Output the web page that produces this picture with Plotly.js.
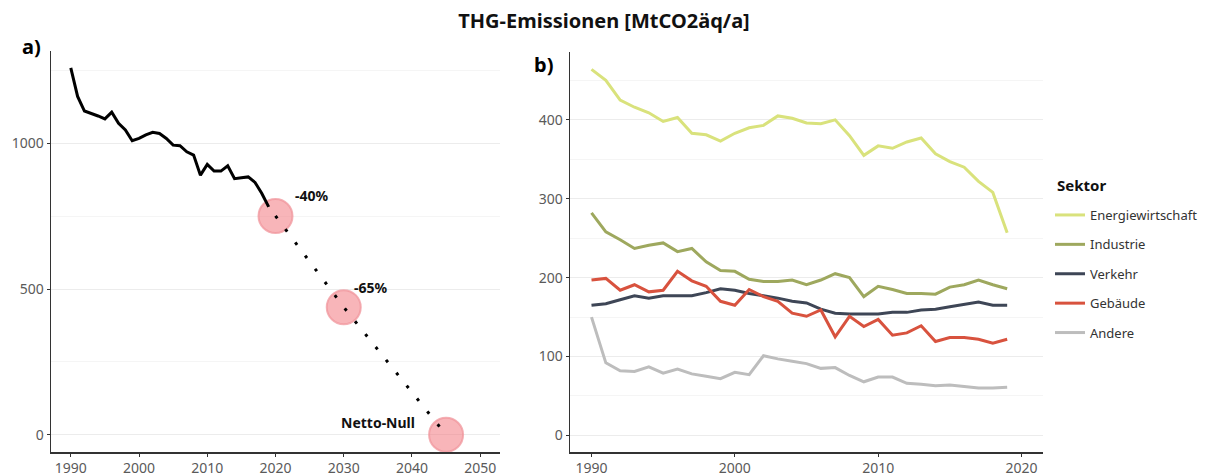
<!DOCTYPE html>
<html>
<head>
<meta charset="utf-8">
<script src="https://cdn.plot.ly/plotly-3.0.1.min.js"></script>
<style>html,body{margin:0;padding:0;background:#fff;}#chart{width:1211px;height:476px;}</style>
</head>
<body>
<div id="chart"></div>
<script>
// ---------- Data ----------
const years = [1990,1991,1992,1993,1994,1995,1996,1997,1998,1999,2000,2001,2002,2003,2004,2005,2006,2007,2008,2009,2010,2011,2012,2013,2014,2015,2016,2017,2018,2019];
const totalEmissions = [1259,1161,1111,1103,1094,1084,1107,1069,1046,1009,1017,1029,1038,1034,1017,994,992,971,960,891,928,905,905,923,879,882,885,866,828,782];
const targetYears = [2020, 2030, 2045];
const targetValues = [751, 438, 0];
const targetLabels = ["-40%", "-65%", "Netto-Null"];

const sectors = ["Energiewirtschaft", "Industrie", "Verkehr", "Gebäude", "Andere"];
const energiewirtschaft = [464,450,425,416,409,398,403,383,381,373,383,390,393,405,402,396,395,400,380,355,367,364,372,377,357,347,340,322,308,257];
const industrie = [282,258,248,237,241,244,233,237,220,209,208,198,195,195,197,191,197,205,200,176,189,185,180,180,179,188,191,197,191,186];
const verkehr = [165,167,172,177,174,177,177,177,181,186,184,180,177,174,170,168,160,155,154,154,154,156,156,159,160,163,166,169,165,165];
const gebaeude = [197,199,184,191,182,184,208,196,189,170,165,185,176,170,155,151,159,125,151,138,147,127,130,139,119,124,124,122,117,122];
const andere = [150,92,82,81,87,79,84,78,75,72,80,77,101,97,94,91,85,86,76,68,74,74,66,65,63,64,62,60,60,61];
const sectorValues = [energiewirtschaft, industrie, verkehr, gebaeude, andere];
const sectorColors = ["#d9e27c", "#9ea85e", "#3e4656", "#d8523e", "#bdbdbd"];
const legendTitle = "Sektor";

// ---------- Traces ----------
const traces = [];
traces.push({
  x: targetYears, y: targetValues, type: 'scatter', mode: 'markers',
  marker: {size: 34, color: 'rgba(242,120,128,0.55)', line: {width: 2, color: 'rgba(240,150,156,0.75)'}},
  xaxis: 'x', yaxis: 'y', showlegend: false, hoverinfo: 'skip'
});
traces.push({
  x: targetYears, y: targetValues, type: 'scatter', mode: 'lines',
  line: {color: '#000', width: 3, dash: '3px,13.5px'},
  xaxis: 'x', yaxis: 'y', showlegend: false
});
traces.push({
  x: years, y: totalEmissions, type: 'scatter', mode: 'lines',
  line: {color: '#000', width: 3},
  xaxis: 'x', yaxis: 'y', showlegend: false
});
sectors.forEach((s, i) => {
  traces.push({
    x: years, y: sectorValues[i], type: 'scatter', mode: 'lines', name: s,
    legendgroup: 'g' + i,
    line: {color: sectorColors[i], width: 3},
    xaxis: 'x2', yaxis: 'y2'
  });
});

// ---------- Layout ----------
const W = 1211, H = 476;
const tickFont = {family: 'Noto Sans, sans-serif', size: 14, color: '#5a5a5a'};
const axisCommon = {
  showline: true, linecolor: '#333', linewidth: 1.5,
  ticks: 'outside', ticklen: 3, tickcolor: '#333', tickwidth: 1,
  tickfont: tickFont, zeroline: false
};
const yBottom = 452;
const layout = {
  width: W, height: H,
  margin: {l: 0, r: 0, t: 0, b: 0},
  paper_bgcolor: '#fff', plot_bgcolor: '#fff',
  font: {family: 'Noto Sans, sans-serif'},
  title: {text: '<b>THG-Emissionen [MtCO2äq/a]</b>', x: 604 / W, xanchor: 'center', xref: 'paper',
          y: 1 - 21 / H, yanchor: 'middle', yref: 'container',
          font: {family: 'Noto Sans, sans-serif', size: 20, color: '#111'}},
  xaxis: Object.assign({}, axisCommon, {
    domain: [51 / W, 500 / W], range: [1987.1, 2052.9],
    tickvals: [1990, 2000, 2010, 2020, 2030, 2040, 2050], showgrid: false, anchor: 'y'
  }),
  yaxis: Object.assign({}, axisCommon, {
    domain: [1 - yBottom / H, 1 - 51 / H], range: [-59, 1317],
    tickvals: [0, 500, 1000], showgrid: true, gridcolor: '#ececec', gridwidth: 1, anchor: 'x',
    minor: {tickvals: [250, 750, 1250], showgrid: true, gridcolor: '#f5f5f5', gridwidth: 1, ticks: ''}
  }),
  xaxis2: Object.assign({}, axisCommon, {
    domain: [570 / W, 1043 / W], range: [1988.5, 2021.5],
    tickvals: [1990, 2000, 2010, 2020], showgrid: false, anchor: 'y2'
  }),
  yaxis2: Object.assign({}, axisCommon, {
    domain: [1 - yBottom / H, 1 - 52 / H], range: [-21, 486],
    tickvals: [0, 100, 200, 300, 400], showgrid: true, gridcolor: '#ececec', gridwidth: 1, anchor: 'x2',
    minor: {tickvals: [50, 150, 250, 350, 450], showgrid: true, gridcolor: '#f5f5f5', gridwidth: 1, ticks: ''}
  }),
  showlegend: true,
  legend: {
    x: 1050 / W, xanchor: 'left', y: 1 - 200 / H, yanchor: 'top',
    font: {family: 'Noto Sans, sans-serif', size: 13, color: '#333'},
    tracegroupgap: 9.5, bgcolor: 'rgba(0,0,0,0)'
  },
  annotations: [
    {text: '<b>' + legendTitle + '</b>', xref: 'paper', yref: 'paper', x: 1055 / W, y: 1 - 185 / H, xanchor: 'left', yanchor: 'middle',
     showarrow: false, font: {size: 15, color: '#111', family: 'Noto Sans, sans-serif'}},
    {text: '<b>a)</b>', xref: 'paper', yref: 'paper', x: 20 / W, y: 1 - 47 / H, xanchor: 'left', yanchor: 'middle',
     showarrow: false, font: {size: 20, color: '#000', family: 'Noto Sans, sans-serif'}},
    {text: '<b>b)</b>', xref: 'paper', yref: 'paper', x: 532 / W, y: 1 - 65 / H, xanchor: 'left', yanchor: 'middle',
     showarrow: false, font: {size: 20, color: '#000', family: 'Noto Sans, sans-serif'}},
    {text: '<b>' + targetLabels[0] + '</b>', xref: 'x', yref: 'y', x: 2022.6, y: 821, xanchor: 'left', yanchor: 'middle',
     showarrow: false, font: {size: 14, color: '#111'}},
    {text: '<b>' + targetLabels[1] + '</b>', xref: 'x', yref: 'y', x: 2031.2, y: 507, xanchor: 'left', yanchor: 'middle',
     showarrow: false, font: {size: 14, color: '#111'}},
    {text: '<b>' + targetLabels[2] + '</b>', xref: 'x', yref: 'y', x: 2040.7, y: 42, xanchor: 'right', yanchor: 'middle',
     showarrow: false, font: {size: 14, color: '#111'}}
  ]
};

Plotly.newPlot('chart', traces, layout, {displayModeBar: false, staticPlot: true});
</script>
</body>
</html>
